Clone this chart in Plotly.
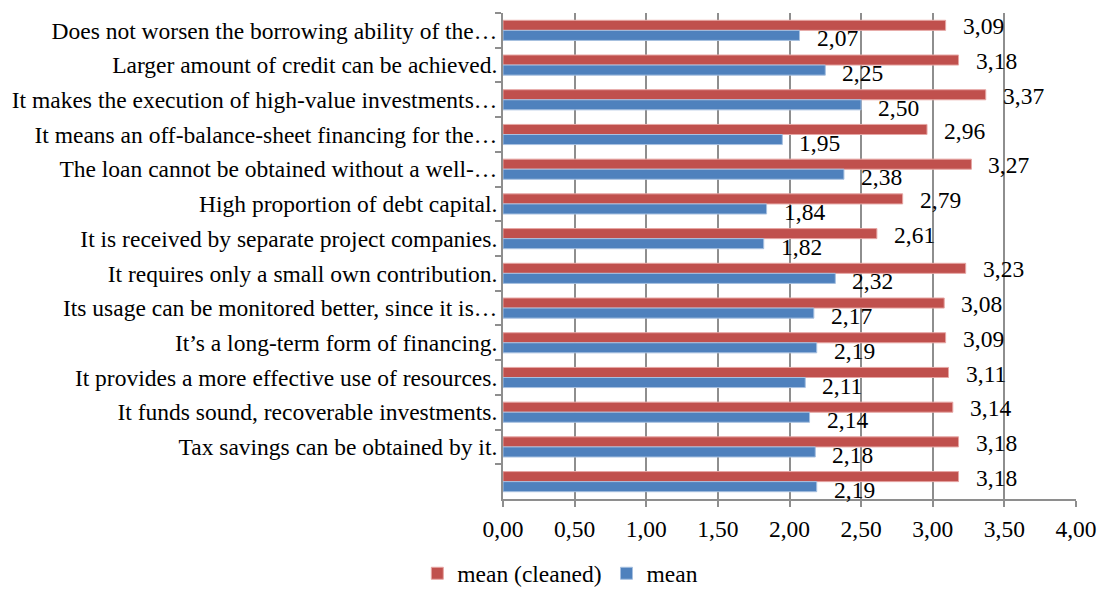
import plotly.graph_objects as go

# Survey statements (top to bottom as in the chart)
statements = [
    "Does not worsen the borrowing ability of the…",
    "Larger amount of credit can be achieved.",
    "It makes the execution of high-value investments…",
    "It means an off-balance-sheet financing for the…",
    "The loan cannot be obtained without a well-…",
    "High proportion of debt capital.",
    "It is received by separate project companies.",
    "It requires only a small own contribution.",
    "Its usage can be monitored better, since it is…",
    "It’s a long-term form of financing.",
    "It provides a more effective use of resources.",
    "It funds sound, recoverable investments.",
    "Tax savings can be obtained by it.",
    " ",
]
mean_cleaned = [3.09, 3.18, 3.37, 2.96, 3.27, 2.79, 2.61, 3.23, 3.08, 3.09, 3.11, 3.14, 3.18, 3.18]
mean_raw = [2.07, 2.25, 2.50, 1.95, 2.38, 1.84, 1.82, 2.32, 2.17, 2.19, 2.11, 2.14, 2.18, 2.19]

font_name = "Liberation Serif"
fsize = 23.5
axis_grey = "#8E8E8E"

fig = go.Figure()
fig.add_trace(go.Bar(
    y=statements, x=mean_cleaned, orientation="h", name="mean (cleaned)",
    marker=dict(color="#C0504D", line=dict(color="#E6A6A4", width=1)),
))
fig.add_trace(go.Bar(
    y=statements, x=mean_raw, orientation="h", name="mean",
    marker=dict(color="#4F81BD", line=dict(color="#A7C0E0", width=1)),
))

# value labels to the right of each bar (comma decimals)
annotations = []
for series, yshift in ((mean_cleaned, 4), (mean_raw, -8)):
    for cat, v in zip(statements, series):
        annotations.append(dict(
            x=v, y=cat, xref="x", yref="y",
            text=f"{v:.2f}".replace(".", ","),
            showarrow=False, xanchor="left", xshift=15, yshift=yshift,
            font=dict(family=font_name, size=fsize, color="black"),
        ))

fig.update_layout(
    width=1103, height=590,
    margin=dict(l=503, r=27, t=13, b=91, autoexpand=False),
    paper_bgcolor="white", plot_bgcolor="white",
    separators=",.",
    barmode="group", bargap=0.42, bargroupgap=0,
    font=dict(family=font_name, size=fsize, color="black"),
    showlegend=True,
    legend=dict(orientation="h", x=0.508, xref="container", xanchor="center",
                y=0.028, yref="container", yanchor="middle",
                font=dict(family=font_name, size=fsize), itemwidth=30, traceorder="normal"),
    annotations=annotations,
    xaxis=dict(
        range=[0, 4], dtick=0.5, tickformat=".2f", automargin=False,
        showgrid=True, gridcolor=axis_grey, gridwidth=2,
        showline=True, linecolor=axis_grey, linewidth=2,
        ticks="outside", tickcolor=axis_grey, ticklen=6, tickwidth=2,
        ticklabelstandoff=2, zeroline=False, tickfont=dict(size=fsize),
    ),
    yaxis=dict(
        range=[len(statements) - 0.5, -0.5], automargin=False,
        showline=True, linecolor=axis_grey, linewidth=2,
        ticks="outside", tickson="boundaries", tickcolor=axis_grey, ticklen=6, tickwidth=2,
        ticklabelstandoff=-1, tickfont=dict(size=fsize),
    ),
)

# drop the default page margin so the figure sits at the window origin
fig.write_html("out.html", config={"displayModeBar": False},
               post_script="document.body.style.margin='0';")
